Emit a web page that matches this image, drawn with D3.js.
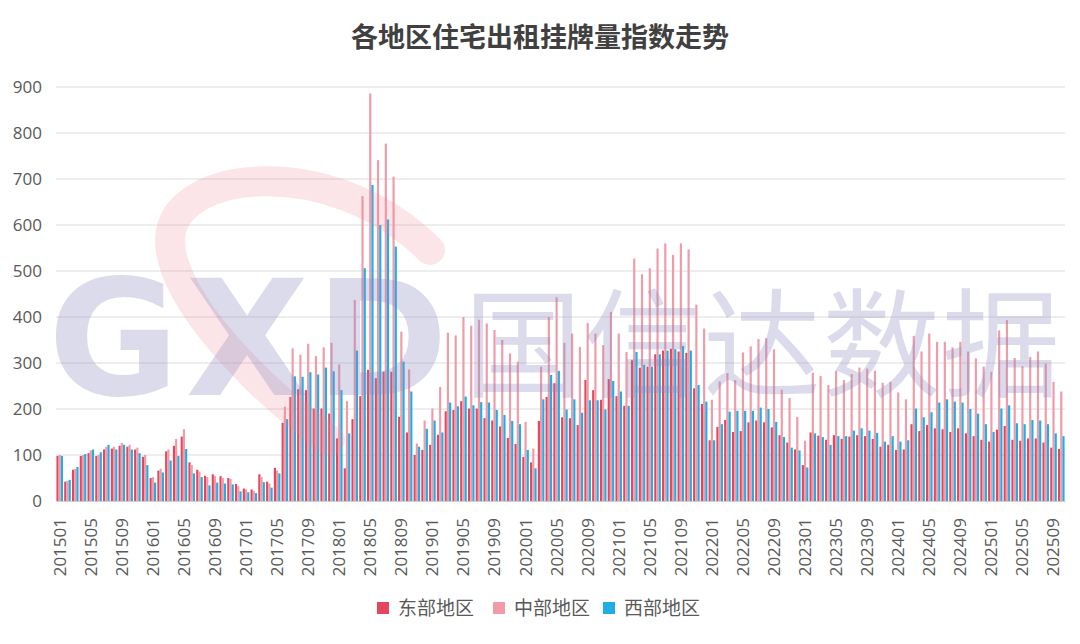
<!DOCTYPE html>
<html>
<head>
<meta charset="utf-8">
<script src="https://cdn.jsdelivr.net/npm/d3@7"></script>
<style>
  body { margin: 0; background: #fff; }
  svg { display: block; font-family: "Open Sans", "Noto Sans CJK SC", sans-serif; }
</style>
</head>
<body>
<div id="chart"></div>
<script>
// months 201501 - 202510
const months = [
  "201501","201502","201503","201504","201505","201506","201507","201508","201509","201510","201511","201512",
  "201601","201602","201603","201604","201605","201606","201607","201608","201609","201610","201611","201612",
  "201701","201702","201703","201704","201705","201706","201707","201708","201709","201710","201711","201712",
  "201801","201802","201803","201804","201805","201806","201807","201808","201809","201810","201811","201812",
  "201901","201902","201903","201904","201905","201906","201907","201908","201909","201910","201911","201912",
  "202001","202002","202003","202004","202005","202006","202007","202008","202009","202010","202011","202012",
  "202101","202102","202103","202104","202105","202106","202107","202108","202109","202110","202111","202112",
  "202201","202202","202203","202204","202205","202206","202207","202208","202209","202210","202211","202212",
  "202301","202302","202303","202304","202305","202306","202307","202308","202309","202310","202311","202312",
  "202401","202402","202403","202404","202405","202406","202407","202408","202409","202410","202411","202412",
  "202501","202502","202503","202504","202505","202506","202507","202508","202509","202510"
];

const tickLabels = [
  "201501","201505","201509","201601","201605","201609","201701","201705","201709",
  "201801","201805","201809","201901","201905","201909","202001","202005","202009",
  "202101","202105","202109","202201","202205","202209","202301","202305","202309",
  "202401","202405","202409","202501","202505","202509"
];

const seriesNames = ["东部地区", "中部地区", "西部地区"];
const seriesColors = ["#e3465e", "#f09ba8", "#20aee5"];

const east = [
  98,42,68,98,104,98,112,114,120,118,112,96,
  50,66,108,120,140,84,68,55,58,54,50,37,
  27,25,58,42,72,170,226,243,241,201,201,190,
  136,71,178,228,285,267,281,281,183,149,100,111,
  122,144,195,198,217,201,201,180,175,162,137,124,
  96,84,174,226,256,182,180,165,263,241,220,265,
  228,207,306,290,292,319,327,331,325,322,245,211,
  132,161,176,150,152,171,175,171,160,143,127,112,
  78,149,142,133,143,135,140,143,141,135,118,122,
  111,112,167,152,165,158,156,150,158,147,141,133,
  129,155,163,133,131,136,136,127,116,113
];

const central = [
  100,44,70,100,110,100,118,118,126,122,116,100,
  52,70,112,135,156,78,64,52,54,50,48,32,
  25,22,52,38,66,205,332,318,342,315,334,344,
  297,217,437,663,886,741,777,705,368,286,125,175,
  201,248,366,360,400,381,394,386,372,350,321,303,
  172,114,292,400,443,344,364,335,387,364,339,411,
  364,324,527,493,506,549,560,535,560,547,427,375,
  220,260,278,263,323,336,352,354,330,242,224,183,
  131,279,272,252,283,263,276,290,288,283,257,259,
  236,221,359,325,364,346,346,334,346,325,310,292,
  281,371,393,311,293,313,325,299,259,238
];

const west = [
  98,46,74,102,112,106,122,112,122,112,104,78,
  40,62,88,98,113,60,52,34,40,38,36,21,
  19,17,41,29,60,178,271,270,280,275,290,282,
  241,147,327,506,687,600,612,553,303,238,118,157,
  175,149,214,206,227,208,215,214,198,187,174,167,
  111,71,221,274,283,199,221,192,219,219,199,261,
  238,207,324,296,292,319,327,330,337,327,252,216,
  132,167,194,196,196,196,203,200,172,139,116,110,
  73,147,139,122,141,141,153,158,153,148,129,141,
  129,132,201,182,193,214,221,216,214,200,190,167,
  150,201,208,169,167,176,175,167,147,141
];

const yTicks = [0, 100, 200, 300, 400, 500, 600, 700, 800, 900];

const width = 1080, height = 644;
const margin = { left: 56, right: 15, top: 87, bottom: 143 };

const svg = d3.select("#chart").append("svg")
    .attr("width", width)
    .attr("height", height);

const x0 = d3.scaleBand()
    .domain(months)
    .range([margin.left, width - margin.right])
    .paddingInner(0.14)
    .paddingOuter(0.05);

const x1 = d3.scaleBand()
    .domain(seriesNames)
    .range([0, x0.bandwidth()])
    .padding(0.02);

const y = d3.scaleLinear()
    .domain([0, 900])
    .range([height - margin.bottom, margin.top]);

// gridlines
svg.append("g")
    .selectAll("line")
    .data(yTicks.filter(d => d > 0))
    .join("line")
        .attr("x1", margin.left)
        .attr("x2", width - margin.right)
        .attr("y1", d => y(d))
        .attr("y2", d => y(d))
        .attr("stroke", "#dcdcdc")
        .attr("stroke-width", 1);

// y axis labels
const yAxis = svg.append("g")
    .attr("transform", `translate(${margin.left - 14},0)`)
    .call(d3.axisLeft(y).tickValues(yTicks).tickSize(0).tickPadding(0));
yAxis.select(".domain").remove();
yAxis.selectAll("text")
    .attr("font-size", 17)
    .attr("fill", "#595959")
    .attr("font-family", "'Open Sans', sans-serif");

// bars
const table = months.map((m, i) => ({ month: m, values: [east[i], central[i], west[i]] }));

svg.append("g")
    .selectAll("g")
    .data(table)
    .join("g")
        .attr("transform", d => `translate(${x0(d.month)},0)`)
    .selectAll("rect")
    .data(d => d.values.map((v, k) => ({ key: seriesNames[k], value: v, k })))
    .join("rect")
        .attr("x", d => x1(d.key))
        .attr("y", d => y(d.value))
        .attr("width", x1.bandwidth())
        .attr("height", d => y(0) - y(d.value))
        .attr("fill", d => seriesColors[d.k]);

// x axis
const xAxis = svg.append("g")
    .attr("transform", `translate(0,${y(0)})`)
    .call(d3.axisBottom(x0).tickValues(tickLabels).tickSize(0).tickPadding(0));
xAxis.select(".domain")
    .attr("stroke", "#d0d0d0")
    .attr("stroke-width", 1.2);
xAxis.selectAll("text")
    .attr("font-size", 17)
    .attr("fill", "#595959")
    .attr("font-family", "'Open Sans', sans-serif")
    .attr("text-anchor", "end")
    .attr("dy", "0.35em")
    .attr("transform", "translate(0,17) rotate(-90)");

// watermark
const wm = svg.append("g").attr("pointer-events", "none");
wm.append("path")
    .attr("d", "M 430 250 C 330 150, 170 170, 170 240 C 170 300, 260 390, 330 440")
    .attr("fill", "none")
    .attr("stroke", "#f08a94")
    .attr("stroke-width", 30)
    .attr("stroke-linecap", "round")
    .attr("opacity", 0.22);
wm.append("text")
    .attr("x", 48)
    .attr("y", 395)
    .attr("font-family", "'DejaVu Sans', sans-serif")
    .attr("font-weight", "bold")
    .attr("font-size", 160)
    .attr("textLength", 400)
    .attr("fill", "#8c8cc0")
    .attr("opacity", 0.3)
    .text("GXD");
wm.append("text")
    .attr("x", 464)
    .attr("y", 388)
    .attr("font-family", "'Noto Sans CJK SC', sans-serif")
    .attr("font-size", 118)
    .attr("textLength", 596)
    .attr("fill", "#8c8cc0")
    .attr("opacity", 0.3)
    .text("国信达数据");

// title
svg.append("text")
    .attr("x", width / 2)
    .attr("y", 47)
    .attr("text-anchor", "middle")
    .attr("font-family", "'Noto Sans CJK SC', sans-serif")
    .attr("font-weight", "bold")
    .attr("font-size", 27)
    .attr("fill", "#404040")
    .text("各地区住宅出租挂牌量指数走势");

// legend
const legendX = [377, 493, 603];
const legend = svg.append("g")
    .selectAll("g")
    .data(seriesNames)
    .join("g")
        .attr("transform", (d, i) => `translate(${legendX[i]},602)`);
legend.append("rect")
    .attr("width", 12)
    .attr("height", 12)
    .attr("fill", (d, i) => seriesColors[i]);
legend.append("text")
    .attr("x", 21)
    .attr("y", 13)
    .attr("font-family", "'Noto Sans CJK SC', sans-serif")
    .attr("font-size", 19)
    .attr("fill", "#595959")
    .text(d => d);
</script>
</body>
</html>
